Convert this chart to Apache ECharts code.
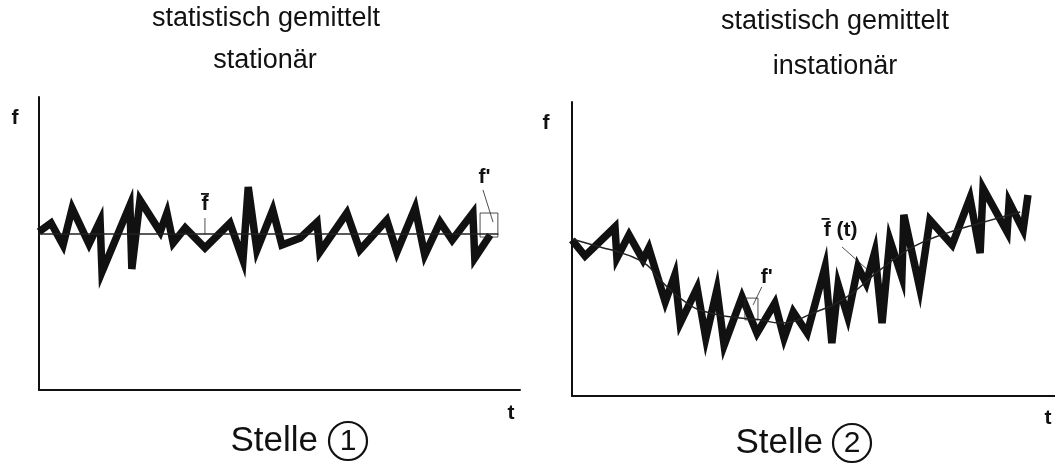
<!DOCTYPE html>
<html>
<head>
<meta charset="utf-8">
<script src="https://cdn.jsdelivr.net/npm/echarts@6/dist/echarts.min.js"></script>
<style>
  html, body { margin: 0; padding: 0; background: #fff; }
  #chart { width: 1055px; height: 472px; }
</style>
</head>
<body>
<div id="chart"></div>
<script>
// Stelle 1: statistically stationary signal f(t) and its constant mean
const t1 = [0, 2.5, 5, 6.9, 10.4, 12.7, 13.1, 18.9, 19.3, 21, 25.2, 26.6, 27.9, 30.4, 34.5, 39.7, 42.4, 43.5, 45.3, 48.6, 50.5, 54.3, 57.8, 58.4, 64, 66.7, 72.3, 74.4, 78.2, 80.2, 83.4, 85.9, 90.2, 90.6, 93.8];
const f1 = [54, 57, 49.5, 62, 49.8, 57.7, 40.3, 63.1, 41.3, 64.8, 54, 60.4, 50.2, 55.3, 48.5, 57, 44.4, 69.3, 47.8, 61.4, 49.5, 51.9, 57.3, 47.1, 60.4, 47.8, 58, 47.1, 62.1, 46.1, 57.3, 51.2, 60.4, 45, 52.9];
const mean1 = 53.2;
const meanSpan1 = [0, 95.5];

// Stelle 2: statistically non-stationary signal f(t) and its time-varying mean
const t2 = [0, 2.7, 8.9, 9.3, 11.8, 14.7, 15.9, 19.3, 21.3, 22.4, 25.9, 27.7, 30, 31.5, 35.2, 38.3, 42, 43.9, 45.8, 48.7, 52.4, 53.8, 55.1, 57.1, 59.2, 60.9, 62.7, 64.2, 65.8, 68.3, 68.7, 72, 74.1, 78.7, 82.4, 84.5, 85.1, 90.1, 90.5, 93.4, 94.4];
const f2 = [53.1, 47.6, 57.5, 46.9, 54.8, 46.3, 50.3, 32, 41.2, 24.8, 36.7, 19.7, 36.1, 17.3, 33.7, 21.4, 31.6, 19.7, 28.6, 21.4, 43.9, 18, 37.8, 26.9, 43.9, 38.4, 49, 24.8, 53.1, 40.5, 61.6, 36.7, 59.9, 51.4, 67.3, 48.6, 70.7, 55.8, 66, 56.5, 68.4];
const tMean2 = [0, 5.8, 11.4, 15.5, 18.2, 23.8, 28.6, 34.8, 38.9, 43.1, 49.9, 56.9, 63.8, 70.6, 77.6, 84.5, 92.8];
const fMean2 = [53.4, 50.7, 48, 44.6, 39.5, 31.6, 28.2, 26.5, 25.9, 24.8, 28.2, 33.7, 42.9, 50.7, 55.4, 58.8, 62.6];

// Fluctuation boxes f' (t range, f range)
const box1 = { t: [91.7, 95.4], f: [52.2, 60.4] };
const box2 = { t: [35.8, 38.5], f: [25.9, 33.3] };

const pairs = (xs, ys) => xs.map((x, i) => [x, ys[i]]);
const rectPath = b => [[b.t[0], b.f[0]], [b.t[0], b.f[1]], [b.t[1], b.f[1]], [b.t[1], b.f[0]], [b.t[0], b.f[0]]];

const INK = '#111';
const SANS = '"Liberation Sans", Arial, sans-serif';

const axisBase = {
  type: 'value', min: 0, max: 100,
  axisLine: { show: true, onZero: false, lineStyle: { color: INK, width: 2 } },
  axisTick: { show: false }, axisLabel: { show: false }, splitLine: { show: false }
};

const zig = (xi, data) => ({
  type: 'line', xAxisIndex: xi, yAxisIndex: xi, data, symbol: 'none', silent: true,
  lineStyle: { color: INK, width: 7.5, join: 'miter', miterLimit: 8, cap: 'butt' }, z: 3
});
const thin = (xi, data, smooth, w) => ({
  type: 'line', xAxisIndex: xi, yAxisIndex: xi, data, symbol: 'none', silent: true,
  smooth: smooth || false,
  lineStyle: { color: '#222', width: w || 1.5 }, z: 4
});

const chart = echarts.init(document.getElementById('chart'), null, { renderer: 'canvas' });

chart.setOption({
  animation: false,
  backgroundColor: '#fff',
  grid: [
    { left: 39, top: 97, width: 481, height: 293 },
    { left: 572, top: 102, width: 483, height: 294 }
  ],
  xAxis: [ Object.assign({ gridIndex: 0 }, axisBase), Object.assign({ gridIndex: 1 }, axisBase) ],
  yAxis: [ Object.assign({ gridIndex: 0 }, axisBase), Object.assign({ gridIndex: 1 }, axisBase) ],
  series: [
    thin(0, [[meanSpan1[0], mean1], [meanSpan1[1], mean1]]),
    zig(0, pairs(t1, f1)),
    thin(0, rectPath(box1), false, 0.8),
    thin(0, [[34.5, mean1], [34.5, 58.7]], false, 0.8),
    thin(0, [[92.3, 68.3], [94.4, 57.3]], false, 0.8),

    thin(1, pairs(tMean2, fMean2), true),
    zig(1, pairs(t2, f2)),
    thin(1, rectPath(box2), false, 0.8),
    thin(1, [[39.3, 37.1], [37.5, 31]], false, 0.8),
    thin(1, [[55.9, 50.7], [61.7, 42.2]], false, 0.8)
  ]
});

// Text annotations placed through the chart's own coordinate systems
function toPx(gi, t, f) { return chart.convertToPixel({ gridIndex: gi }, [t, f]); }

const labelFont = 'bold 21px ' + SANS;
const g = [];
function txt(x, y, text, font, align) {
  g.push({ type: 'text', silent: true, x, y, style: { text, font, fill: INK, align: align || 'center', verticalAlign: 'middle' } });
}
function overbar(x, y, w) {
  g.push({ type: 'line', silent: true, shape: { x1: x - w / 2, y1: y, x2: x + w / 2, y2: y }, style: { stroke: INK, lineWidth: 1.8 } });
}

// Titles
const titleFont = '27px ' + SANS;
txt(266, 19, 'statistisch gemittelt', titleFont);
txt(265, 61, 'stationär', titleFont);
txt(835, 22, 'statistisch gemittelt', titleFont);
txt(835, 67, 'instationär', titleFont);

// Axis names
txt(15, 118, 'f', labelFont);
txt(546, 123, 'f', labelFont);
txt(511, 413, 't', labelFont);
txt(1048, 418, 't', labelFont);

// Mean and fluctuation labels
let p = toPx(0, 34.5, 63.5);
txt(p[0], p[1], 'f', labelFont);
overbar(p[0], p[1] - 10, 8);
p = toPx(0, 92.6, 72.5);
txt(p[0], p[1], "f'", labelFont);
p = toPx(1, 40.3, 40.5);
txt(p[0], p[1], "f'", labelFont);
p = toPx(1, 55.6, 56.5);
txt(p[0], p[1], 'f (t)', labelFont);
overbar(p[0] - 15, p[1] - 11, 8);

// Location captions
const capFont = '35px ' + SANS;
txt(318, 441, 'Stelle', capFont, 'right');
g.push({ type: 'circle', silent: true, shape: { cx: 348, cy: 441, r: 19 }, style: { fill: 'none', stroke: INK, lineWidth: 2.2 } });
txt(348, 442, '1', '30px ' + SANS);
txt(823, 443, 'Stelle', capFont, 'right');
g.push({ type: 'circle', silent: true, shape: { cx: 852, cy: 443, r: 19 }, style: { fill: 'none', stroke: INK, lineWidth: 2.2 } });
txt(852, 444, '2', '30px ' + SANS);

chart.setOption({ graphic: g });
</script>
</body>
</html>
